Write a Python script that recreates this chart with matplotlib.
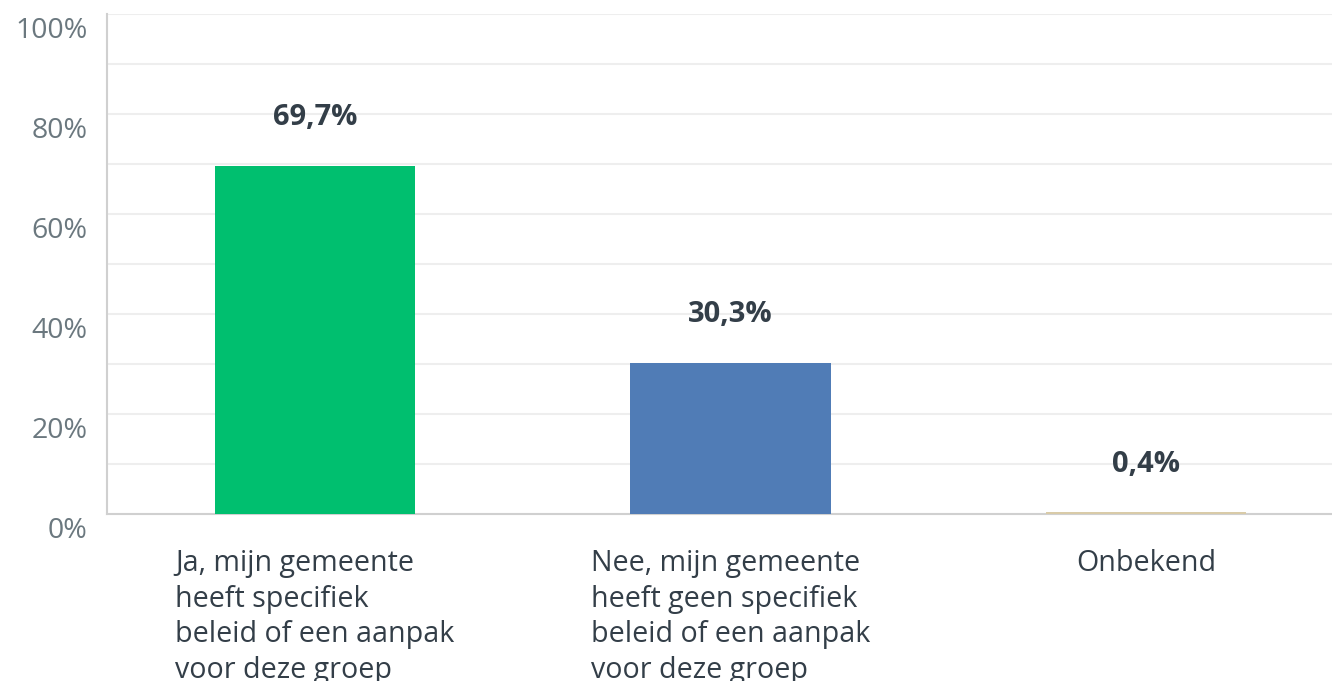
import matplotlib.pyplot as plt
from matplotlib.transforms import ScaledTranslation

plt.rcParams['font.family'] = ['Open Sans', 'DejaVu Sans']

categories = [
    'Ja, mijn gemeente\nheeft specifiek\nbeleid of een aanpak\nvoor deze groep',
    'Nee, mijn gemeente\nheeft geen specifiek\nbeleid of een aanpak\nvoor deze groep',
    'Onbekend',
]
values = [69.7, 30.3, 0.4]
value_labels = ['69,7%', '30,3%', '0,4%']
colors = ['#00BF6F', '#507CB6', '#D9CBA8']
yticks = [0, 20, 40, 60, 80, 100]
ytick_labels = ['0%', '20%', '40%', '60%', '80%', '100%']

fig = plt.figure(figsize=(13.32, 6.81), dpi=100)
ax = fig.add_axes([107 / 1332, 167 / 681, 1225 / 1332, 500 / 681])

x = list(range(len(categories)))
ax.bar(x, values, width=0.483, color=colors, zorder=3)

for xi, v, lab in zip(x, values, value_labels):
    ax.annotate(lab, (xi, v), xytext=(0, 29), textcoords='offset points',
                ha='center', va='baseline', fontsize=21, fontweight='bold',
                color='#333e48')

ax.set_xlim(-0.5006, 2.4477)
ax.set_ylim(0, 100)
ax.set_yticks(yticks)
ax.set_yticklabels(ytick_labels, fontsize=20.5, color='#6b787f')
ax.set_yticks(range(10, 100, 20), minor=True)
ax.grid(axis='y', which='both', color='#eeeeee', linewidth=1.5, zorder=0)

ax.set_xticks(x)
ax.set_xticklabels(categories, fontsize=20.6, color='#333e48',
                   ha='center', va='top', multialignment='left', linespacing=1.31)
ax.tick_params(axis='both', which='both', length=0)
ax.tick_params(axis='y', pad=14)
ax.tick_params(axis='x', pad=25)

shift = ScaledTranslation(0, -13 / 100, fig.dpi_scale_trans)
for t in ax.get_yticklabels():
    t.set_transform(t.get_transform() + shift)

for s in ['top', 'right']:
    ax.spines[s].set_visible(False)
ax.spines['left'].set_color('#d0d0d0')
ax.spines['bottom'].set_color('#d0d0d0')
ax.spines['left'].set_linewidth(1.5)
ax.spines['bottom'].set_linewidth(1.5)

fig.savefig('out.png', dpi=100)
